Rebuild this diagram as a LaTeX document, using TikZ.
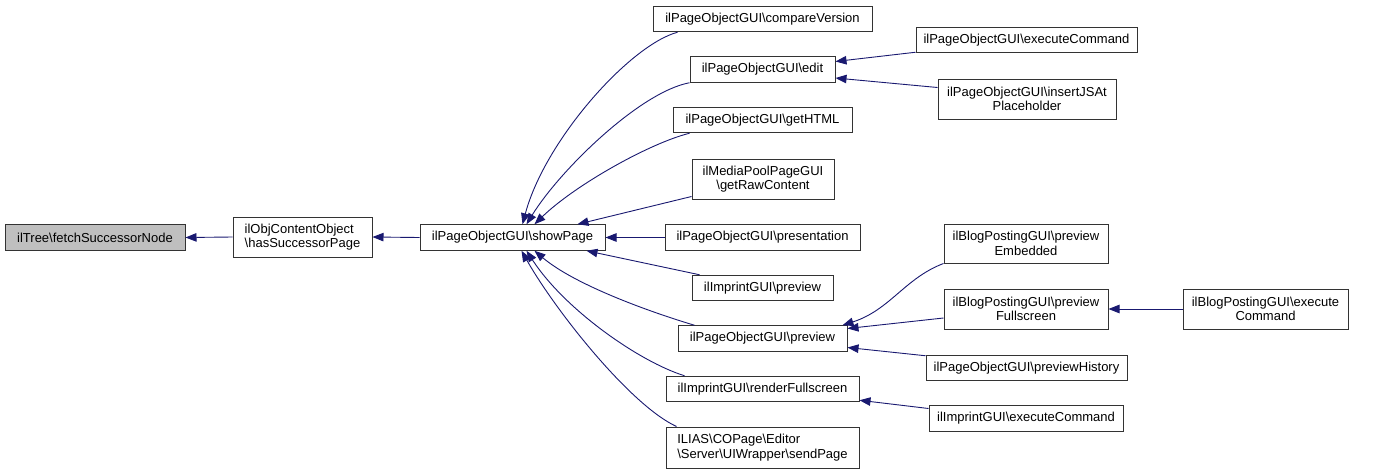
\documentclass[tikz,border=0pt]{standalone}
\usepackage{fontspec}
\setmainfont{Liberation Sans}
\usetikzlibrary{arrows.meta,calc}
\definecolor{edgec}{RGB}{25,25,112}
\definecolor{grayfill}{RGB}{191,191,191}
\newcommand{\bs}{\textbackslash{}}
\tikzset{
  box/.style={draw=black!80, line width=1pt, fill=white, inner sep=0pt,
    font=\fontsize{13}{14.5}\selectfont, align=center},
  one/.style={minimum height=25.5pt},
  two/.style={minimum height=40pt},
  arr/.style={draw=edgec, line width=0.9pt, -{Triangle[length=11pt,width=8.5pt]}}
}
\begin{document}
\begin{tikzpicture}[x=1pt,y=-1pt]
\useasboundingbox (0,0) rectangle (1376,474);
% nodes
\node[box,one,fill=grayfill,minimum width=180pt] (n1) at (95,237.5) {ilTree\bs fetchSuccessorNode};
\node[box,two,align=left,minimum width=139pt] (n2) at (302.5,237) {ilObjContentObject\\\bs hasSuccessorPage};
\node[box,one,minimum width=185pt] (sp) at (512.5,237.5) {ilPageObjectGUI\bs showPage};
\node[box,one,minimum width=219pt] (cv) at (762.5,19) {ilPageObjectGUI\bs compareVersion};
\node[box,one,minimum width=145pt] (ed) at (762.5,69.5) {ilPageObjectGUI\bs edit};
\node[box,one,minimum width=179pt] (gh) at (762.5,120) {ilPageObjectGUI\bs getHTML};
\node[box,two,minimum width=142pt] (rc) at (763,179) {ilMediaPoolPageGUI\\\bs getRawContent};
\node[box,one,minimum width=195pt] (pr) at (762.5,237.5) {ilPageObjectGUI\bs presentation};
\node[box,one,minimum width=141pt] (ip) at (762.5,288) {ilImprintGUI\bs preview};
\node[box,one,minimum width=169pt] (pv) at (762.5,338.5) {ilPageObjectGUI\bs preview};
\node[box,one,minimum width=193pt] (rf) at (762.5,389) {ilImprintGUI\bs renderFullscreen};
\node[box,two,align=left,minimum width=193pt,minimum height=41pt] (sd) at (762.5,447.5) {ILIAS\bs COPage\bs Editor\\\bs Server\bs UIWrapper\bs sendPage};
\node[box,one,minimum width=221pt] (ec) at (1026.5,40) {ilPageObjectGUI\bs executeCommand};
\node[box,two,minimum width=178pt] (ij) at (1027,99) {ilPageObjectGUI\bs insertJSAt\\Placeholder};
\node[box,two,minimum width=164pt,minimum height=39pt] (pe) at (1026,243.5) {ilBlogPostingGUI\bs preview\\Embedded};
\node[box,two,minimum width=164pt] (pf) at (1026,309) {ilBlogPostingGUI\bs preview\\Fullscreen};
\node[box,two,minimum width=165pt] (bx) at (1265.5,309) {ilBlogPostingGUI\bs execute\\Command};
\node[box,one,minimum width=201pt] (ph) at (1026.5,368) {ilPageObjectGUI\bs previewHistory};
\node[box,one,minimum width=194pt] (ie) at (1026,418.5) {ilImprintGUI\bs executeCommand};
% edges
\draw[arr] (n2.west) -- (n1.east);
\draw[arr] (sp.west) -- (n2.east);
\draw[arr] ($(cv.south west)+(25,0)$) .. controls (630,45) and (545,140) .. ($(sp.north west)+(103,0)$);
\draw[arr] (ed.south west) .. controls (640,92) and (560,170) .. ($(sp.north west)+(107,0)$);
\draw[arr] ($(gh.south west)+(17,0)$) .. controls (650,143) and (575,185) .. ($(sp.north west)+(115,0)$);
\draw[arr] ($(rc.south west)+(0,-3)$) -- ($(sp.north west)+(158,0)$);
\draw[arr] (pr.west) -- (sp.east);
\draw[arr] ($(ip.north west)+(8,0)$) -- ($(sp.south west)+(167,0)$);
\draw[arr] ($(pv.north west)+(17,0)$) .. controls (650,312) and (575,285) .. ($(sp.south west)+(115,0)$);
\draw[arr] ($(rf.north west)+(19,0)$) .. controls (640,362) and (565,310) .. ($(sp.south west)+(107,0)$);
\draw[arr] ($(sd.north west)+(11,0)$) .. controls (630,405) and (555,310) .. ($(sp.south west)+(102,0)$);
\draw[arr] ($(ec.south west)+(0,-1)$) -- ($(ed.east)+(0,-8)$);
\draw[arr] ($(ij.north west)+(0,9)$) -- ($(ed.east)+(0,8.5)$);
\draw[arr] (pe.south west) .. controls (905,278) and (890,310) .. ($(pv.north east)+(-5,0)$);
\draw[arr] ($(pf.west)+(0,9)$) -- ($(pv.east)+(0,-10)$);
\draw[arr] ($(ph.north west)+(0,1)$) -- ($(pv.east)+(0,9)$);
\draw[arr] ($(ie.west)+(0,-10)$) -- ($(rf.south east)+(0,-2)$);
\draw[arr] (bx.west) -- (pf.east);
\end{tikzpicture}
\end{document}
